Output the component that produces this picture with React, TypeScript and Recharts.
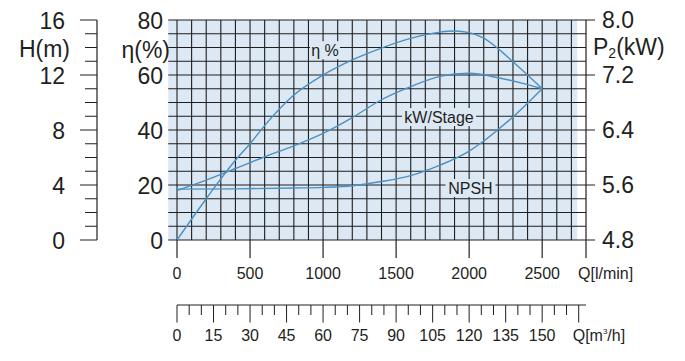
import React from 'react';
import { LineChart, Line, XAxis, YAxis, ReferenceArea, ReferenceLine, ReferenceDot } from 'recharts';

// flow in l/min
const etaQ = [0, 200, 400, 500, 600, 800, 1000, 1200, 1400, 1600, 1800, 1900, 2000, 2100, 2200, 2300, 2400, 2500];
const etaVal = [0, 15, 29, 35, 41.6, 52.7, 60, 65.5, 69.8, 73.3, 75.6, 76, 75.4, 73.4, 69.5, 64.8, 60, 55];

const kwQ = [0, 200, 400, 600, 800, 1000, 1200, 1400, 1600, 1800, 2000, 2200, 2400, 2500];
const kwVal = [5.52, 5.67, 5.84, 6.01, 6.17, 6.35, 6.58, 6.84, 7.03, 7.18, 7.225, 7.16, 7.06, 7.0];

const npshQ = [0, 400, 800, 1000, 1200, 1400, 1600, 1800, 2000, 2100, 2200, 2300, 2400, 2500];
const npshVal = [3.7, 3.72, 3.78, 3.83, 3.95, 4.25, 4.68, 5.44, 6.47, 7.2, 8.05, 8.95, 9.95, 11.0];

// axis ticks
const qTicks = [0, 500, 1000, 1500, 2000, 2500, 2800];
const m3Ticks = [0, 5, 10, 15, 20, 25, 30, 35, 40, 45, 50, 55, 60, 65, 70, 75, 80, 85, 90, 95, 100, 105, 110, 115, 120, 125, 130, 135, 140, 145, 150, 155, 160, 165];
const m3Range = [0, 168];
const hTicks = [0, 1, 2, 3, 4, 5, 6, 7, 8, 9, 10, 11, 12, 13, 14, 15, 16];
const etaTicks = [0, 20, 40, 60, 80];
const kwTicks = [4.8, 5.6, 6.4, 7.2, 8.0];

// grid
const gridQ = [0, 100, 200, 300, 400, 500, 600, 700, 800, 900, 1000, 1100, 1200, 1300, 1400, 1500, 1600, 1700, 1800, 1900, 2000, 2100, 2200, 2300, 2400, 2500, 2600, 2700];
const gridEta = [0, 5, 10, 15, 20, 25, 30, 35, 40, 45, 50, 55, 60, 65, 70, 75, 80];

// curve captions (q, eta-axis position)
const captions = [
  { text: 'η %', q: 1013, eta: 69, w: 30 },
  { text: 'kW/Stage', q: 1794, eta: 44.7, w: 74 },
  { text: 'NPSH', q: 2009, eta: 18.9, w: 50 },
];

const etaData = etaQ.map((q, i) => ({ q, v: etaVal[i] }));
const kwData = kwQ.map((q, i) => ({ q, v: kwVal[i] }));
const npshData = npshQ.map((q, i) => ({ q, v: npshVal[i] }));

const ink = '#231f20';
const gridColor = '#1e1e1e';
const curve = '#4a90c4';
const bg = '#dce8f4';
const font = '"Liberation Sans", Arial, sans-serif';

const QTick = ({ x, y, payload }: any) => {
  const v = payload.value;
  return (
    <g>
      <line x1={x} x2={x} y1={y} y2={y + 18} stroke={ink} strokeWidth={1.2} />
      {v === 2800 ? (
        <text x={x - 8} y={y + 39} textAnchor="start" fontSize={16} fill={ink} fontFamily={font}>Q[l/min]</text>
      ) : (
        <text x={x} y={y + 39} textAnchor="middle" fontSize={16} fill={ink} fontFamily={font}>{v}</text>
      )}
    </g>
  );
};

const M3Tick = ({ x, y, payload }: any) => {
  const v = payload.value;
  const major = v % 15 === 0;
  return (
    <g>
      <line x1={x} x2={x} y1={y} y2={y + (major ? 17.5 : 10)} stroke={ink} strokeWidth={1} />
      {v === 165 ? (
        <text x={x - 6} y={y + 36} textAnchor="start" fontSize={16} fill={ink} fontFamily={font}>
          Q[m<tspan fontSize={8} dy={-7}>3</tspan><tspan dy={7}>/h]</tspan>
        </text>
      ) : major ? (
        <text x={x} y={y + 36} textAnchor="middle" fontSize={16} fill={ink} fontFamily={font}>{v}</text>
      ) : null}
    </g>
  );
};

const HTick = ({ x, y, payload }: any) => {
  const v = payload.value;
  const major = v % 4 === 0;
  return (
    <g>
      <line x1={x - (major ? 17 : 12)} x2={x} y1={y} y2={y} stroke={ink} strokeWidth={1} />
      {major && (
        <text x={x - 32} y={y + 9} textAnchor="end" fontSize={23} fill={ink} fontFamily={font}>{v}</text>
      )}
      {v === 16 && (
        <text x={x - 27} y={y + 37} textAnchor="end" fontSize={23} fill={ink} fontFamily={font}>H(m)</text>
      )}
    </g>
  );
};

const EtaTick = ({ x, y, payload }: any) => {
  const v = payload.value;
  return (
    <g>
      <text x={x - 14} y={y + 9} textAnchor="end" fontSize={23} fill={ink} fontFamily={font}>{v}</text>
      {v === 80 && (
        <text x={x - 7} y={y + 38} textAnchor="end" fontSize={23} fill={ink} fontFamily={font}>η(%)</text>
      )}
    </g>
  );
};

const KwTick = ({ x, y, payload }: any) => {
  const v = payload.value;
  return (
    <g>
      <line x1={x} x2={x + 9} y1={y} y2={y} stroke={ink} strokeWidth={1} />
      <text x={x + 16} y={y + 8} textAnchor="start" fontSize={23} fill={ink} fontFamily={font}>{v.toFixed(1)}</text>
      {v === 8 && (
        <text x={x + 7} y={y + 35} textAnchor="start" fontSize={23} fill={ink} fontFamily={font}>
          P<tspan fontSize={14} dy={3}>2</tspan><tspan dy={-3}>(kW)</tspan>
        </text>
      )}
    </g>
  );
};

const Caption = (text: string, w: number) => ({ cx, cy }: any) => (
  <g>
    <rect x={cx - w / 2} y={cy - 9} width={w} height={18} fill={bg} />
    <text x={cx} y={cy + 6} textAnchor="middle" fontSize={16} fill={ink} fontFamily={font}>{text}</text>
  </g>
);

export default function App() {
  return (
    <div style={{ width: 669, height: 345, background: '#fff' }}>
      <LineChart width={669} height={345} margin={{ top: 12, right: 0, bottom: 8, left: 0 }}>
        <XAxis
          xAxisId={0}
          type="number"
          dataKey="q"
          domain={[0, 2800]}
          allowDataOverflow
          ticks={qTicks}
          interval={0}
          height={65}
          axisLine={false}
          tickLine={false}
          tickSize={0}
          tickMargin={0}
          tick={<QTick />}
        />
        <XAxis
          xAxisId={1}
          type="number"
          dataKey="m3"
          domain={[0, 168]}
          allowDataOverflow
          ticks={m3Ticks}
          interval={0}
          height={40}
          axisLine={{ stroke: ink, strokeWidth: 1 }}
          tickLine={false}
          tickSize={0}
          tickMargin={0}
          tick={<M3Tick />}
        />
        <YAxis
          yAxisId="eta"
          orientation="left"
          type="number"
          domain={[0, 80]}
          allowDataOverflow
          ticks={etaTicks}
          interval={0}
          width={80}
          axisLine={false}
          tickLine={false}
          tickSize={0}
          tickMargin={0}
          tick={<EtaTick />}
        />
        <YAxis
          yAxisId="h"
          orientation="left"
          type="number"
          domain={[0, 16]}
          allowDataOverflow
          ticks={hTicks}
          interval={0}
          width={89}
          axisLine={{ stroke: ink, strokeWidth: 1.2 }}
          tickLine={false}
          tickSize={0}
          tickMargin={0}
          tick={<HTick />}
        />
        <YAxis
          yAxisId="kw"
          orientation="right"
          type="number"
          domain={[4.8, 8.0]}
          allowDataOverflow
          ticks={kwTicks}
          interval={0}
          width={91}
          axisLine={{ stroke: ink, strokeWidth: 1.2 }}
          tickLine={false}
          tickSize={0}
          tickMargin={0}
          tick={<KwTick />}
        />

        <ReferenceArea xAxisId={0} yAxisId="eta" x1={-60} x2={2740} y1={0} y2={80} fill={bg} fillOpacity={1} stroke="none" ifOverflow="visible" />
        {/* anchors the m3/h scale to its range */}
        {m3Range.map((m) => (
          <ReferenceLine key={`m${m}`} xAxisId={1} yAxisId="eta" x={m} stroke="none" ifOverflow="extendDomain" />
        ))}
        {gridQ.map((q) => (
          <ReferenceLine key={`v${q}`} xAxisId={0} yAxisId="eta" x={q} stroke={gridColor} strokeWidth={1.1} ifOverflow="visible" />
        ))}
        {gridEta.map((e) => (
          <ReferenceLine
            key={`h${e}`}
            xAxisId={0}
            yAxisId="eta"
            segment={[{ x: -60, y: e }, { x: 2800, y: e }]}
            stroke={gridColor}
            strokeWidth={1.1}
            ifOverflow="visible"
          />
        ))}
        {captions.map((c) => (
          <ReferenceDot key={c.text} xAxisId={0} yAxisId="eta" x={c.q} y={c.eta} r={0} ifOverflow="visible" shape={Caption(c.text, c.w)} />
        ))}

        <Line xAxisId={0} yAxisId="eta" data={etaData} dataKey="v" type="monotone" stroke={curve} strokeWidth={1.4} dot={false} isAnimationActive={false} />
        <Line xAxisId={0} yAxisId="kw" data={kwData} dataKey="v" type="monotone" stroke={curve} strokeWidth={1.4} dot={false} isAnimationActive={false} />
        <Line xAxisId={0} yAxisId="h" data={npshData} dataKey="v" type="monotone" stroke={curve} strokeWidth={1.4} dot={false} isAnimationActive={false} />
      </LineChart>
    </div>
  );
}
